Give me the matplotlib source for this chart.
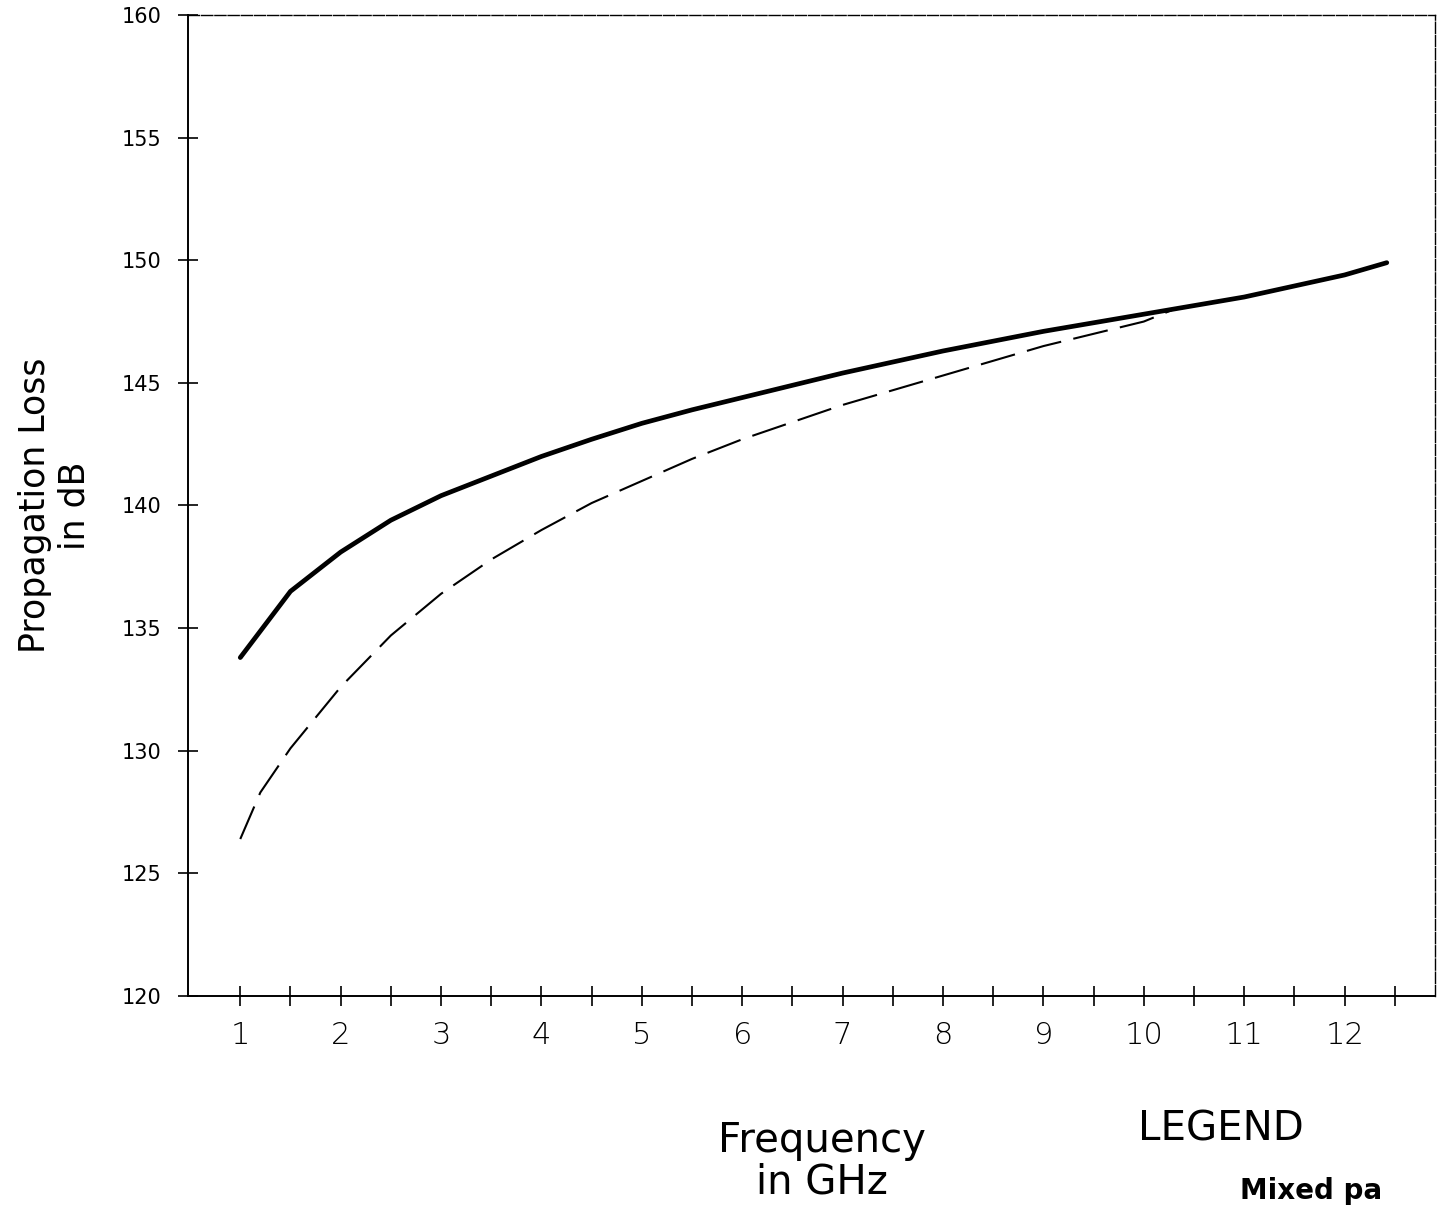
import matplotlib.pyplot as plt
import numpy as np

# === DATA ===
freq_solid = [1.0, 1.5, 2.0, 2.5, 3.0, 3.5, 4.0, 4.5, 5.0, 5.5, 6.0, 7.0, 8.0,
              9.0, 10.0, 11.0, 12.0, 12.42]
loss_solid = [133.8, 136.5, 138.1, 139.4, 140.4, 141.2, 142.0, 142.7, 143.35, 143.9,
              144.4, 145.4, 146.3, 147.1, 147.8, 148.5, 149.4, 149.9]

freq_dash = [1.0, 1.2, 1.5, 2.0, 2.5, 3.0, 3.5, 4.0, 4.5, 5.0, 5.5, 6.0, 6.5, 7.0,
             7.5, 8.0, 8.5, 9.0, 9.5, 10.0, 10.3]
loss_dash = [126.4, 128.3, 130.1, 132.6, 134.7, 136.4, 137.8, 139.0, 140.1, 141.0,
             141.9, 142.7, 143.4, 144.1, 144.7, 145.3, 145.9, 146.5, 147.0, 147.5, 148.0]

x_ticks = np.arange(1.0, 12.51, 0.5)
x_labels = [str(int(t)) if t == int(t) else "" for t in x_ticks]
y_ticks = list(range(120, 161, 5))

FONT = "DejaVu Sans"

fig = plt.figure(figsize=(14.4, 12.07), dpi=100)
ax = fig.add_axes([0.1306, 0.1748, 0.8659, 0.8128])

ax.plot(freq_solid, loss_solid, color="black", lw=3.4,
        solid_capstyle="round", solid_joinstyle="round")
ax.plot(freq_dash, loss_dash, color="black", lw=1.5, dashes=(17, 6))

ax.set_xlim(0.48, 12.9)
ax.set_ylim(120, 160)

ax.set_xticks(x_ticks)
ax.set_xticklabels(x_labels, fontsize=22, family=FONT, fontweight="light")
ax.set_yticks(y_ticks)
ax.set_yticklabels([str(v) for v in y_ticks], fontsize=15, family=FONT)
ax.tick_params(axis="x", direction="inout", length=14, width=1.2, pad=11)
ax.tick_params(axis="y", direction="inout", length=14, width=1.2, pad=12)

for s in ["left", "bottom"]:
    ax.spines[s].set_linewidth(1.4)
for s in ["top", "right"]:
    ax.spines[s].set_linewidth(1.0)
    ax.spines[s].set_linestyle((0, (8, 1.5)))

ax.set_ylabel("Propagation Loss\nin dB", fontsize=25, family=FONT, labelpad=22,
              linespacing=1.2)

fig.text(0.571, 0.0373, "Frequency\nin GHz", ha="center", va="center", fontsize=29,
         family=FONT, linespacing=1.05)
fig.text(0.848, 0.0638, "LEGEND", ha="center", va="center", fontsize=29, family=FONT)
fig.text(0.861, 0.002, "Mixed pa", ha="left", va="bottom", fontsize=20,
         family=FONT, fontweight="bold")

fig.savefig("out.png", dpi=100)
